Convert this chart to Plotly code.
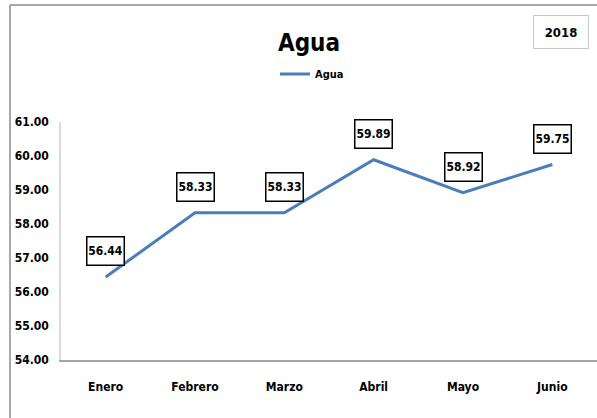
import plotly.graph_objects as go

months = ["Enero", "Febrero", "Marzo", "Abril", "Mayo", "Junio"]
values = [56.44, 58.33, 58.33, 59.89, 58.92, 59.75]
y_ticks = [54, 55, 56, 57, 58, 59, 60, 61]
series_name = "Agua"
year_label = "2018"

FONT = "DejaVu Sans Condensed, Liberation Sans Narrow, sans-serif"
W, H = 597, 418
L, R, T, B = 61, 0, 122, 58
pw, ph = W - L - R, H - T - B

def px(x):
    return (x - L) / pw

def py(y):
    return (H - B - y) / ph

fig = go.Figure()
fig.add_trace(go.Scatter(
    x=months, y=values, mode="lines", name=f"<b>{series_name}</b>",
    line=dict(color="#4a7ebb", width=3),
))

for m, v in zip(months, values):
    fig.add_annotation(
        x=m, y=v, xref="x", yref="y", text=f"<b>{v:.2f}</b>",
        showarrow=False, yshift=26, yanchor="middle", xanchor="center",
        font=dict(family=FONT, size=12, color="black"),
        bgcolor="white", bordercolor="black", borderwidth=1.5,
        width=36, height=27, borderpad=0,
    )

fig.add_annotation(
    x=px(561), y=py(32), xref="paper", yref="paper", text=f"<b>{year_label}</b>",
    showarrow=False, xanchor="center", yanchor="middle",
    font=dict(family=FONT, size=13, color="black"),
    bgcolor="white", bordercolor="#c8c8c8", borderwidth=1,
    width=54, height=32, borderpad=0,
)

# outer chart border (left and top)
fig.add_shape(type="line", xref="paper", yref="paper",
              x0=px(10), x1=px(10), y0=py(5), y1=py(430),
              line=dict(color="#8c8c8c", width=1.5))
fig.add_shape(type="line", xref="paper", yref="paper",
              x0=px(10), x1=px(620), y0=py(5), y1=py(5),
              line=dict(color="#8c8c8c", width=1.5))

fig.update_layout(
    width=W, height=H,
    margin=dict(l=L, r=R, t=T, b=B, autoexpand=False),
    paper_bgcolor="white", plot_bgcolor="white",
    title=dict(text=f"<b>{series_name}</b>", x=309 / W, y=1 - 43 / H,
               xanchor="center", yanchor="middle",
               font=dict(family=FONT, size=24, color="black")),
    showlegend=True,
    legend=dict(orientation="h", x=px(312), y=py(74), xanchor="center", yanchor="middle",
                font=dict(family=FONT, size=11, color="black"),
                bgcolor="rgba(0,0,0,0)", itemwidth=30),
    font=dict(family=FONT, color="black"),
)
fig.update_xaxes(
    range=[-0.5, 5.5], showgrid=False, zeroline=False, automargin=False,
    showline=True, linecolor="#a6a6a6", linewidth=1.5,
    ticks="", tickfont=dict(family=FONT, size=12, color="black"),
    tickvals=months, ticktext=[f"<b>{m}</b>" for m in months],
    ticklabelstandoff=15,
)
fig.update_yaxes(
    range=[54, 61], showgrid=False, zeroline=False, automargin=False,
    showline=True, linecolor="#d9d9d9", linewidth=1.5,
    ticks="", tickvals=y_ticks, ticktext=[f"<b>{t:.2f}</b>" for t in y_ticks],
    tickfont=dict(family=FONT, size=12, color="black"),
    ticklabelstandoff=8,
)

fig.write_html("out.html", config={"displayModeBar": False},
               post_script="document.body.style.margin='0';")
